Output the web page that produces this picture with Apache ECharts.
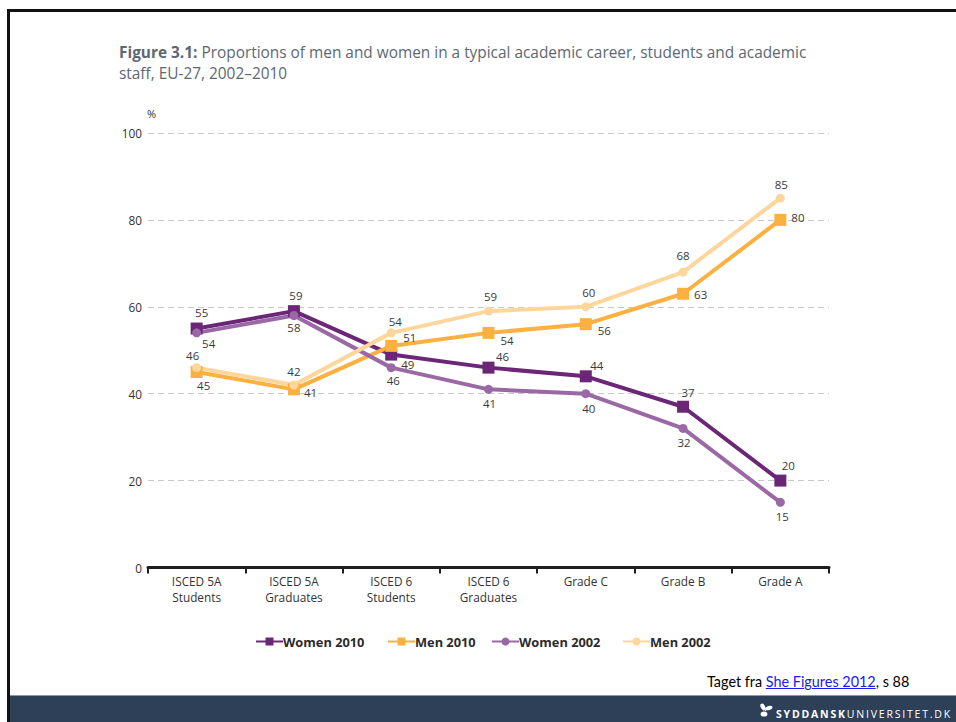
<!DOCTYPE html>
<html>
<head>
<meta charset="utf-8">
<title>She Figures 2012 – Figure 3.1</title>
<script src="https://cdn.jsdelivr.net/npm/echarts@6/dist/echarts.min.js"></script>
<style>
  html, body { margin: 0; padding: 0; width: 956px; height: 722px; overflow: hidden; background: #fff; }
  #chart { position: absolute; left: 0; top: 0; width: 956px; height: 722px; }
  .frame-top { position: absolute; left: 7px; top: 9px; width: 949px; height: 3px; background: #111; }
  .frame-left { position: absolute; left: 7px; top: 9px; width: 3px; height: 713px; background: #111; z-index: 3; }
  .band { position: absolute; left: 8px; top: 695px; width: 948px; height: 27px; background: #2e3f58; border-top: 1px solid #8a97a8; box-sizing: border-box; z-index: 2; }
  .source { position: absolute; left: 707px; top: 673px; font-family: Lato, "Noto Sans", sans-serif; font-size: 14.4px; color: #000; white-space: nowrap; }
  .source a { color: #1a1aee; text-decoration: underline; }
  .sdu { position: absolute; left: 776px; top: 708px; font-family: "Open Sans", "DejaVu Sans", sans-serif; font-size: 10.5px; color: #fff; letter-spacing: 1.8px; white-space: nowrap; z-index: 4; line-height: 13px; }
  .sdu b { font-weight: 700; }
  .sdu-logo { position: absolute; left: 757px; top: 702px; width: 18px; height: 18px; z-index: 4; }
</style>
</head>
<body>
<div id="chart"></div>
<div class="frame-top"></div>
<div class="frame-left"></div>
<div class="band"></div>
<svg class="sdu-logo" viewBox="0 0 18 18">
  <ellipse cx="6" cy="5" rx="2.2" ry="3.6" transform="rotate(-30 6 5)" fill="#fff"/>
  <ellipse cx="12" cy="6" rx="3.6" ry="2" transform="rotate(-20 12 6)" fill="#fff"/>
  <ellipse cx="7" cy="12" rx="3.4" ry="2.6" fill="#fff"/>
  <path d="M4 2 L9 9" stroke="#fff" stroke-width="1.2"/>
</svg>
<div class="sdu"><b>SYDDANSK</b>UNIVERSITET.DK</div>
<div class="source">Taget fra <a>She Figures 2012</a>, s 88</div>
<script>
// Career stages on the x axis
const stages = [
  'ISCED 5A\nStudents',
  'ISCED 5A\nGraduates',
  'ISCED 6\nStudents',
  'ISCED 6\nGraduates',
  'Grade C',
  'Grade B',
  'Grade A'
];

// Proportions (%) per stage
const women2010 = [55, 59, 49, 46, 44, 37, 20];
const men2010   = [45, 41, 51, 54, 56, 63, 80];
const women2002 = [54, 58, 46, 41, 40, 32, 15];
const men2002   = [46, 42, 54, 59, 60, 68, 85];

// Y-axis ticks
const yTicks = [0, 20, 40, 60, 80, 100];

// Where each value label sits relative to its point: [position, dx, dy]
const women2010Place = [['top', 5, 0], ['top', 2, 0], ['right', 0, 10], ['top', 14, 5], ['top', 11, 5], ['top', 5, 2], ['top', 8, 1]];
const men2010Place   = [['bottom', 7, -2], ['right', 0, 3], ['right', 2, -8], ['right', 2, 8], ['right', 2, 6], ['right', 1, 1], ['right', 1, -2]];
const women2002Place = [['bottom', 12, -4], ['bottom', 0, -2], ['bottom', 2, -2], ['bottom', 1, 0], ['bottom', 3, 0], ['bottom', 1, 0], ['bottom', 2, 0]];
const men2002Place   = [['top', -4, 2], ['top', 0, 1], ['top', 4, 3], ['top', 2, 0], ['top', 3, 0], ['top', 0, -2], ['top', 1, 1]];

const COLORS = {
  w10: '#6c2677',
  m10: '#fbb040',
  w02: '#9a68a4',
  m02: '#fed69b'
};

const labelFont = { fontFamily: '"Open Sans", "DejaVu Sans", sans-serif', fontSize: 11.5, color: '#3a3a3a' };

function pointData(values, places) {
  return values.map((v, i) => ({
    value: v,
    label: {
      position: places[i][0],
      offset: [places[i][1], places[i][2]]
    }
  }));
}

function lineSeries(name, values, places, color, symbol, size) {
  return {
    name: name,
    type: 'line',
    data: pointData(values, places),
    symbol: symbol,
    symbolSize: size,
    showAllSymbol: true,
    lineStyle: { color: color, width: 4 },
    itemStyle: { color: color, borderWidth: 0 },
    label: Object.assign({ show: true, distance: 4 }, labelFont),
    emphasis: { disabled: true },
    animation: false
  };
}

const legendText = {
  fontFamily: '"Open Sans", "DejaVu Sans", sans-serif',
  fontSize: 12.8,
  fontWeight: 'bold',
  color: '#2b2b2b',
  padding: [0, 0, 0, -5]
};

function legendFor(name, left) {
  return {
    data: [name],
    left: left,
    top: 635,
    padding: 0,
    itemWidth: 27,
    itemHeight: 10,
    textStyle: legendText,
    selectedMode: false
  };
}

const chart = echarts.init(document.getElementById('chart'), null, { renderer: 'svg' });

chart.setOption({
  backgroundColor: '#fff',
  animation: false,
  title: {
    left: 119,
    top: 37,
    padding: [5, 5, 5, 0],
    text: '{b|Figure 3.1:} Proportions of men and women in a typical academic career, students and academic\nstaff, EU-27, 2002–2010',
    textStyle: {
      fontFamily: '"Open Sans", "Noto Sans", sans-serif',
      fontSize: 15.4,
      fontWeight: 'normal',
      color: '#5d6873',
      lineHeight: 21,
      rich: {
        b: {
          fontFamily: '"Open Sans", "Noto Sans", sans-serif',
          fontSize: 15.4,
          fontWeight: 'bold',
          color: '#5d6873',
          lineHeight: 21
        }
      }
    }
  },
  graphic: [{
    type: 'text',
    left: 147,
    top: 108,
    style: {
      text: '%',
      fontFamily: '"Open Sans", "DejaVu Sans", sans-serif',
      fontSize: 11,
      fill: '#333'
    }
  }],
  legend: [
    legendFor('Women 2010', 255),
    legendFor('Men 2010', 387),
    legendFor('Women 2002', 491),
    legendFor('Men 2002', 622)
  ],
  grid: {
    left: 148,
    right: 127,
    top: 133,
    bottom: 154.5,
    containLabel: false
  },
  xAxis: {
    type: 'category',
    data: stages,
    boundaryGap: true,
    axisLine: { show: true, lineStyle: { color: '#1e1e1e', width: 3 } },
    axisTick: { show: true, interval: 0, length: 6, lineStyle: { color: '#1e1e1e', width: 2 } },
    axisLabel: {
      interval: 0,
      margin: 5,
      fontFamily: '"Open Sans", "DejaVu Sans", sans-serif',
      fontSize: 11.8,
      lineHeight: 16,
      color: '#333'
    },
    splitLine: { show: false }
  },
  yAxis: {
    type: 'value',
    min: yTicks[0],
    max: yTicks[yTicks.length - 1],
    interval: yTicks[1] - yTicks[0],
    axisLine: { show: false },
    axisTick: { show: false },
    axisLabel: {
      margin: 6,
      fontFamily: '"Open Sans", "DejaVu Sans", sans-serif',
      fontSize: 11.8,
      color: '#333'
    },
    splitLine: {
      show: true,
      lineStyle: { color: '#c8c8c8', width: 1, type: [6, 4] }
    }
  },
  series: [
    lineSeries('Women 2010', women2010, women2010Place, COLORS.w10, 'rect', 12),
    lineSeries('Men 2010', men2010, men2010Place, COLORS.m10, 'rect', 12),
    lineSeries('Women 2002', women2002, women2002Place, COLORS.w02, 'circle', 9),
    lineSeries('Men 2002', men2002, men2002Place, COLORS.m02, 'circle', 9)
  ]
});
</script>
</body>
</html>
